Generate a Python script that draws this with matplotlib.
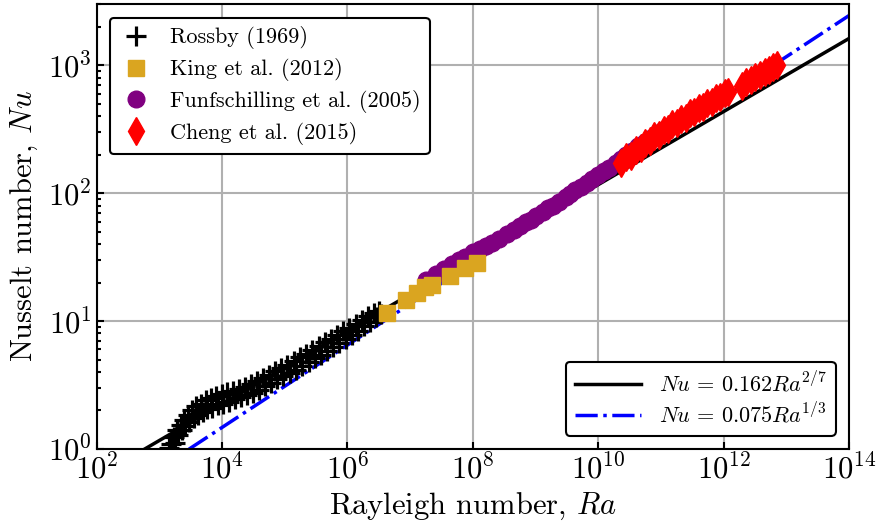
import matplotlib
matplotlib.use('Agg')
import matplotlib.pyplot as plt
import numpy as np

# Rossby (1969): upper and lower edges of the band alternate
rossby_ra = [1.4e3, 1.55e3, 1.7e3, 1.75e3, 1.9e3, 2.0e3, 2.2e3, 2.3e3, 2.5e3, 2.6e3,
             2.9e3, 3.0e3, 3.3e3, 3.5e3, 3.9e3, 4.1e3, 4.6e3, 4.9e3, 5.5e3, 5.8e3,
             6.6e3, 7.0e3, 8.0e3, 8.5e3, 9.8e3, 1.05e4, 1.2e4, 1.3e4, 1.5e4, 1.6e4,
             1.85e4, 2.0e4, 2.3e4, 2.5e4, 2.9e4, 3.1e4, 3.6e4, 3.9e4, 4.5e4, 4.9e4,
             5.6e4, 6.1e4, 7.0e4, 7.6e4, 8.8e4, 9.5e4, 1.1e5, 1.2e5, 1.4e5, 1.5e5,
             1.75e5, 1.9e5, 2.2e5, 2.4e5, 2.75e5, 3.0e5, 3.45e5, 3.75e5, 4.3e5, 4.7e5,
             5.4e5, 5.9e5, 6.8e5, 7.4e5, 8.5e5, 9.3e5, 1.07e6, 1.17e6, 1.35e6, 1.45e6,
             1.7e6, 1.8e6, 2.1e6, 2.3e6, 2.6e6, 2.8e6, 3.2e6, 3.4e6]
rossby_nu = [1.02, 1.10, 1.25, 1.12, 1.40, 1.28, 1.55, 1.40, 1.70, 1.52,
             1.85, 1.62, 2.00, 1.75, 2.15, 1.85, 2.25, 1.95, 2.40, 2.05,
             2.50, 2.10, 2.60, 2.20, 2.70, 2.25, 2.80, 2.35, 2.85, 2.45,
             2.95, 2.55, 3.05, 2.65, 3.20, 2.75, 3.40, 2.90, 3.60, 3.10,
             3.80, 3.30, 4.05, 3.50, 4.30, 3.70, 4.55, 3.90, 4.85, 4.15,
             5.20, 4.45, 5.55, 4.75, 5.95, 5.10, 6.35, 5.45, 6.80, 5.85,
             7.30, 6.30, 7.80, 6.75, 8.30, 7.25, 8.90, 7.80, 9.50, 8.40,
             10.2, 9.10, 10.9, 9.90, 11.6, 10.7, 12.0, 11.3]

# King et al. (2012)
king_ra = [4.2e6, 8.7e6, 1.3e7, 1.7e7, 2.2e7, 4.3e7, 7.4e7, 1.15e8]
king_nu = [11.5, 14.6, 16.5, 18.4, 19.1, 22.4, 26.0, 28.4]

# Funfschilling et al. (2005)
funf_ra = [1.8e7, 2.6e7, 3.4e7, 4.6e7, 6.0e7, 7.4e7, 1.0e8, 1.3e8, 1.6e8, 2.0e8,
           2.6e8, 3.5e8, 4.5e8, 5.6e8, 7.0e8, 8.5e8, 1.0e9, 1.3e9, 1.6e9, 1.9e9,
           2.4e9, 3.0e9, 3.5e9, 4.3e9, 5.3e9, 6.5e9, 8.0e9, 1.0e10, 1.25e10, 1.5e10,
           1.9e10, 2.3e10, 2.8e10, 3.5e10, 4.3e10, 5.5e10, 7.0e10, 9.0e10, 1.07e11]
funf_nu = [21.0, 23.5, 25.5, 28.0, 30.0, 31.5, 34.5, 36.5, 38.5, 41.0,
           44.0, 48.0, 51.5, 55.0, 59.0, 62.0, 66.0, 71.0, 76.0, 80.0,
           86.0, 93.0, 98.0, 105, 112, 120, 129, 139, 149, 158,
           172, 185, 198, 214, 232, 252, 272, 295, 310]

# Cheng et al. (2015)
cheng_ra = [2.3e10, 2.8e10, 3.3e10, 4.0e10, 4.8e10, 5.6e10, 6.6e10, 7.8e10, 9.2e10, 1.1e11,
            1.3e11, 1.5e11, 1.8e11, 2.1e11, 2.5e11, 2.9e11, 3.4e11, 4.0e11, 4.7e11, 5.5e11,
            6.4e11, 7.5e11, 8.8e11, 1.05e12, 1.15e12,
            1.95e12, 2.3e12, 2.7e12, 3.2e12, 3.8e12, 4.5e12, 5.3e12, 6.2e12, 7.1e12]
cheng_nu = [171, 190, 196, 218, 224, 248, 254, 280, 286, 312,
            318, 345, 352, 382, 390, 420, 428, 462, 470, 505,
            515, 552, 560, 605, 615,
            690, 735, 760, 810, 835, 890, 915, 965, 1000]

# fit lines Nu = c * Ra^beta (blue one)
fit_ra = [1e2, 1e14]
fit_coef = [0.162, 0.076]
fit_exp = [2 / 7, 0.322]
fit_labels = [r'$Nu\,=\,0.162Ra^{2/7}$', r'$Nu\,=\,0.075Ra^{1/3}$']

plt.rcParams['font.family'] = 'serif'
plt.rcParams['font.serif'] = ['cmr10', 'DejaVu Serif']
plt.rcParams['mathtext.fontset'] = 'cm'
plt.rcParams['axes.formatter.use_mathtext'] = True

fig, ax = plt.subplots(figsize=(8.79, 5.23), dpi=100)
fig.subplots_adjust(left=0.110, right=0.966, bottom=0.1415, top=0.992)

h_r, = ax.plot(rossby_ra, rossby_nu, '+', color='black', ms=14, mew=2.3, linestyle='none',
               label='Rossby (1969)', zorder=3)
fa = np.array(fit_ra)
l1, = ax.plot(fa, fit_coef[0] * fa ** fit_exp[0], '-', color='black', lw=2.5,
              label=fit_labels[0], zorder=2)
l2, = ax.plot(fa, fit_coef[1] * fa ** fit_exp[1], '-.', color='blue', lw=2.5,
              label=fit_labels[1], zorder=2)
h_k, = ax.plot(king_ra, king_nu, 's', color='goldenrod', ms=11, linestyle='none',
               label='King et al. (2012)', zorder=4)
h_f, = ax.plot(funf_ra, funf_nu, 'o', color='purple', ms=12, linestyle='none',
               label='Funfschilling et al. (2005)', zorder=3)
h_c, = ax.plot(cheng_ra, cheng_nu, 'd', color='red', ms=14, linestyle='none',
               label='Cheng et al. (2015)', zorder=4)

ax.set_xscale('log')
ax.set_yscale('log')
ax.set_xlim(1e2, 1e14)
ax.set_ylim(1, 3000)
ax.set_xticks([1e2, 1e4, 1e6, 1e8, 1e10, 1e12, 1e14])
ax.grid(True, which='major', color='#b0b0b0', lw=1.5)
ax.set_axisbelow(True)
ax.tick_params(which='both', direction='in', labelsize=22, width=1.5)
ax.tick_params(which='major', length=5)
ax.tick_params(which='minor', length=3)
for s in ax.spines.values():
    s.set_linewidth(1.5)

ax.set_xlabel(r'Rayleigh number, $Ra$', fontsize=22, labelpad=4)
ax.set_ylabel(r'Nusselt number, $Nu$', fontsize=22, labelpad=6)

leg1 = ax.legend(handles=[h_r, h_k, h_f, h_c], loc='upper left', fontsize=16,
                 frameon=True, fancybox=True, framealpha=1, edgecolor='black',
                 handlelength=1.5, borderaxespad=0.6, labelspacing=0.4)
leg1.get_frame().set_linewidth(1.5)
ax.add_artist(leg1)
leg2 = ax.legend(handles=[l1, l2], loc='lower right', fontsize=16, handlelength=3.0,
                 frameon=True, fancybox=True, framealpha=1, edgecolor='black',
                 borderaxespad=0.6, labelspacing=0.3)
leg2.get_frame().set_linewidth(1.5)

fig.savefig('out.png', dpi=100)
